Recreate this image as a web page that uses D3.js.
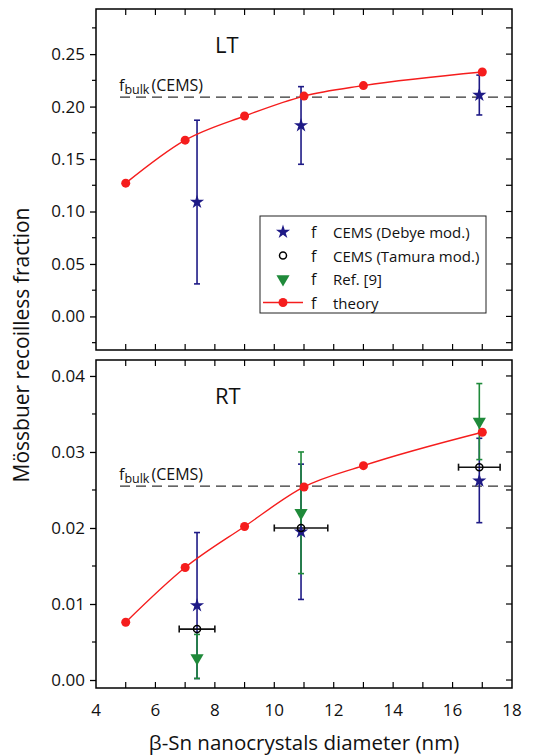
<!DOCTYPE html>
<html>
<head>
<meta charset="utf-8">
<script src="https://cdn.jsdelivr.net/npm/d3@7"></script>
<style>
body{margin:0;background:#fff;}
text{font-family:"Open Sans",sans-serif;fill:#111;}
</style>
</head>
<body>
<svg id="chart" width="547" height="756"></svg>
<script>
// theory values (same sizes for both panels)
const sizes = [5, 7, 9, 11, 13, 17];
const theoryLT = [0.127, 0.168, 0.191, 0.210, 0.220, 0.233];
const theoryRT = [0.0076, 0.0148, 0.0202, 0.0254, 0.0282, 0.0326];

// experimental sample sizes
const sampleSizes = [7.4, 10.9, 16.9];
const debyeLT = [0.109, 0.182, 0.211];
const debyeLTerr = [[0.031, 0.187], [0.145, 0.219], [0.192, 0.230]];
const debyeRT = [0.0098, 0.0195, 0.0262];
const debyeRTerr = [[0.0002, 0.0194], [0.0106, 0.0284], [0.0207, 0.0318]];
const tamuraRT = [0.0067, 0.0200, 0.0280];
const tamuraRTxerr = [[6.8, 8.0], [10.0, 11.8], [16.2, 17.6]];
const ref9RT = [0.0029, 0.0220, 0.0340];
const ref9RTerr = [[0.0002, 0.0060], [0.0140, 0.0300], [0.0290, 0.0390]];

const fbulkLT = 0.209;
const fbulkRT = 0.0255;

const xTicks = [4, 6, 8, 10, 12, 14, 16, 18];
const ltTicks = [0.00, 0.05, 0.10, 0.15, 0.20, 0.25];
const rtTicks = [0.00, 0.01, 0.02, 0.03, 0.04];

const legendItems = [
  {label: "CEMS (Debye mod.)", kind: "star"},
  {label: "CEMS (Tamura mod.)", kind: "circle"},
  {label: "Ref. [9]", kind: "tri"},
  {label: "theory", kind: "line"}
];

const red = "#f51d1d", blue = "#1e1a86", green = "#1f8a3a";

const svg = d3.select("#chart");
const left = 96, right = 512;
const x = d3.scaleLinear().domain([4, 18]).range([left, right]);

const star = d3.symbol().type(d3.symbolStar).size(62);
const tri = d3.symbol().type(d3.symbolTriangle).size(75);

function panel(top, bottom, domain, ticks, fmt, minorStep, name, theory, fbulk) {
  const y = d3.scaleLinear().domain(domain).range([bottom, top]);
  const g = svg.append("g");

  // frame
  g.append("rect").attr("x", left).attr("y", top)
    .attr("width", right - left).attr("height", bottom - top)
    .attr("fill", "none").attr("stroke", "#000").attr("stroke-width", 1.5);

  // left ticks (outward) with labels
  const yAxis = d3.axisLeft(y).tickValues(ticks).tickFormat(fmt).tickSize(6).tickPadding(5);
  const ya = g.append("g").attr("transform", `translate(${left},0)`).call(yAxis);
  ya.select(".domain").remove();
  ya.selectAll("line").attr("stroke-width", 1.3);
  ya.selectAll("text").style("font-size", "17px").style("font-family", "Open Sans");

  const minors = d3.range(Math.ceil(domain[0] / minorStep) * minorStep, domain[1], minorStep)
    .filter(v => !ticks.some(t => Math.abs(t - v) < minorStep / 10));
  g.selectAll(".ml").data(minors).join("line")
    .attr("x1", left - 4).attr("x2", left)
    .attr("y1", d => y(d)).attr("y2", d => y(d)).attr("stroke", "#000").attr("stroke-width", 1.2);
  // right ticks (inward)
  g.selectAll(".rt").data(ticks.concat(minors)).join("line")
    .attr("x1", right - 6).attr("x2", right)
    .attr("y1", d => y(d)).attr("y2", d => y(d)).attr("stroke", "#000").attr("stroke-width", 1.2);
  // top and bottom ticks (inward), every 1 nm
  const xt = d3.range(5, 18, 1);
  g.selectAll(".tt").data(xt).join("line")
    .attr("x1", d => x(d)).attr("x2", d => x(d))
    .attr("y1", top).attr("y2", top + 6).attr("stroke", "#000").attr("stroke-width", 1.2);
  g.selectAll(".bt").data(xt).join("line")
    .attr("x1", d => x(d)).attr("x2", d => x(d))
    .attr("y1", bottom - 6).attr("y2", bottom).attr("stroke", "#000").attr("stroke-width", 1.2);

  // bulk line
  g.append("line").attr("x1", 120).attr("x2", right)
    .attr("y1", y(fbulk)).attr("y2", y(fbulk))
    .attr("stroke", "#333").attr("stroke-width", 1.3).attr("stroke-dasharray", "10,6");
  const fb = g.append("text").attr("x", 119).attr("y", y(fbulk) - 6).style("font-size", "16px");
  fb.append("tspan").text("f");
  fb.append("tspan").text("bulk").style("font-size", "12.5px").attr("dy", 3);
  fb.append("tspan").text("(CEMS)").attr("dy", -3).attr("dx", 2);

  g.append("text").attr("x", 215).attr("y", top + 44).text(name).style("font-size", "22px");

  return {g, y};
}

function errV(g, xs, errs, y, color) {
  const d = xs.map((v, i) => ({x: v, lo: errs[i][0], hi: errs[i][1]}));
  g.selectAll(null).data(d).join("line")
    .attr("x1", e => x(e.x)).attr("x2", e => x(e.x))
    .attr("y1", e => y(e.lo)).attr("y2", e => y(e.hi))
    .attr("stroke", color).attr("stroke-width", 1.6);
  ["lo", "hi"].forEach(k => {
    g.selectAll(null).data(d).join("line")
      .attr("x1", e => x(e.x) - 3).attr("x2", e => x(e.x) + 3)
      .attr("y1", e => y(e[k])).attr("y2", e => y(e[k]))
      .attr("stroke", color).attr("stroke-width", 1.6);
  });
}

function theoryLine(g, y, vals) {
  const pts = sizes.map((s, i) => [x(s), y(vals[i])]);
  g.append("path").attr("d", d3.line().curve(d3.curveMonotoneX)(pts))
    .attr("fill", "none").attr("stroke", red).attr("stroke-width", 1.4);
  g.selectAll(null).data(pts).join("circle")
    .attr("cx", p => p[0]).attr("cy", p => p[1]).attr("r", 4.5).attr("fill", red);
}

function stars(g, y, vals) {
  g.selectAll(null).data(vals).join("path")
    .attr("d", star)
    .attr("transform", (v, i) => `translate(${x(sampleSizes[i])},${y(v)})`)
    .attr("fill", blue);
}

// top panel LT
const lt = panel(9, 350, [-0.032, 0.293], ltTicks, d3.format(".2f"), 0.025, "LT", theoryLT, fbulkLT);
errV(lt.g, sampleSizes, debyeLTerr, lt.y, blue);
theoryLine(lt.g, lt.y, theoryLT);
stars(lt.g, lt.y, debyeLT);

// legend
const lg = lt.g.append("g").attr("transform", "translate(260,216)");
lg.append("rect").attr("width", 226).attr("height", 97)
  .attr("fill", "#fff").attr("stroke", "#222").attr("stroke-width", 1);
legendItems.forEach((it, i) => {
  const yy = 16 + i * 23.5;
  const r = lg.append("g").attr("transform", `translate(0,${yy})`);
  if (it.kind === "star") r.append("path").attr("d", star).attr("transform", "translate(23,0)").attr("fill", blue);
  if (it.kind === "circle") r.append("circle").attr("cx", 23).attr("cy", 0).attr("r", 3.5)
    .attr("fill", "none").attr("stroke", "#000").attr("stroke-width", 1.5);
  if (it.kind === "tri") r.append("path").attr("d", tri).attr("transform", "translate(23,0) rotate(180)").attr("fill", green);
  if (it.kind === "line") {
    r.append("line").attr("x1", 3).attr("x2", 43).attr("y1", 0).attr("y2", 0).attr("stroke", red).attr("stroke-width", 1.5);
    r.append("circle").attr("cx", 23).attr("cy", 0).attr("r", 4.5).attr("fill", red);
  }
  r.append("text").attr("x", 51).attr("y", 6).text("f").style("font-size", "16px");
  r.append("text").attr("x", 73).attr("y", 6).text(it.label).style("font-size", "15px");
});

// bottom panel RT
const rt = panel(360, 688, [-0.00105, 0.0421], rtTicks, d3.format(".2f"), 0.005, "RT", theoryRT, fbulkRT);
errV(rt.g, sampleSizes, debyeRTerr, rt.y, blue);
errV(rt.g, sampleSizes, ref9RTerr, rt.y, green);
// tamura horizontal error bars
const tam = sampleSizes.map((s, i) => ({x: s, v: tamuraRT[i], lo: tamuraRTxerr[i][0], hi: tamuraRTxerr[i][1]}));
rt.g.selectAll(null).data(tam).join("line")
  .attr("x1", d => x(d.lo)).attr("x2", d => x(d.hi))
  .attr("y1", d => rt.y(d.v)).attr("y2", d => rt.y(d.v))
  .attr("stroke", "#111").attr("stroke-width", 1.6);
["lo", "hi"].forEach(k => {
  rt.g.selectAll(null).data(tam).join("line")
    .attr("x1", d => x(d[k])).attr("x2", d => x(d[k]))
    .attr("y1", d => rt.y(d.v) - 3.5).attr("y2", d => rt.y(d.v) + 3.5)
    .attr("stroke", "#111").attr("stroke-width", 1.6);
});
theoryLine(rt.g, rt.y, theoryRT);
stars(rt.g, rt.y, debyeRT);
rt.g.selectAll(null).data(ref9RT).join("path")
  .attr("d", tri)
  .attr("transform", (v, i) => `translate(${x(sampleSizes[i])},${rt.y(v)}) rotate(180)`)
  .attr("fill", green);
rt.g.selectAll(null).data(tam).join("circle")
  .attr("cx", d => x(d.x)).attr("cy", d => rt.y(d.v)).attr("r", 3.5)
  .attr("fill", "none").attr("stroke", "#000").attr("stroke-width", 1.5);

// x axis labels under bottom panel
svg.append("g").selectAll("text").data(xTicks).join("text")
  .attr("x", d => x(d)).attr("y", 716).attr("text-anchor", "middle")
  .style("font-size", "17px").text(d => d);

svg.append("text").attr("x", 304).attr("y", 750).attr("text-anchor", "middle")
  .style("font-size", "20.5px").text("β-Sn nanocrystals diameter (nm)");
svg.append("text").attr("transform", "translate(29,345) rotate(-90)").attr("text-anchor", "middle")
  .style("font-size", "21px").text("Mössbuer recoilless fraction");
</script>
</body>
</html>
